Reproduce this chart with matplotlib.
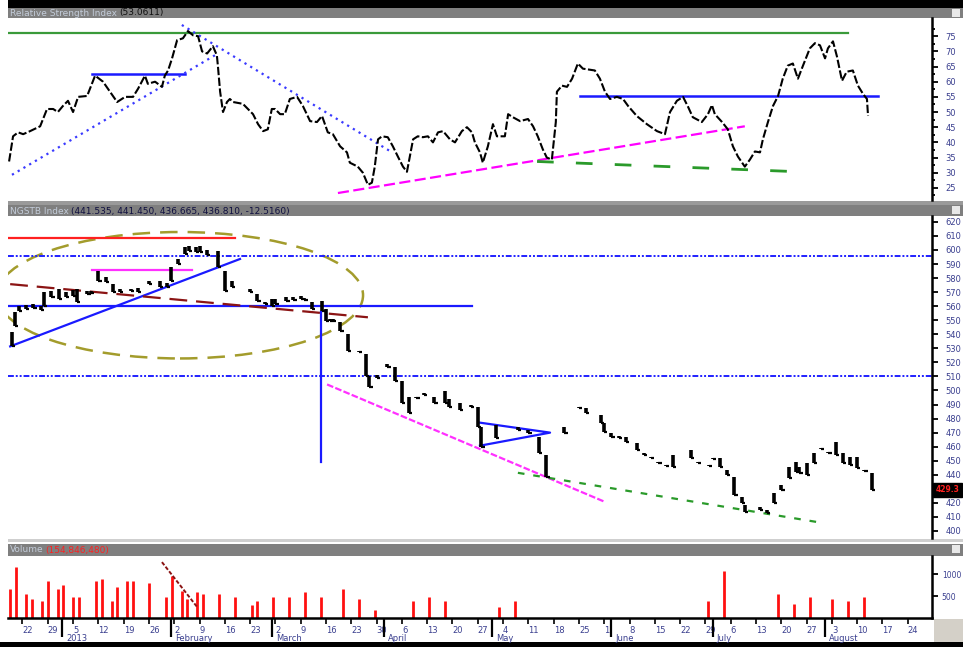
import numpy as np
import pandas as pd
import matplotlib.pyplot as plt
from matplotlib.patches import Ellipse, Rectangle
from matplotlib.transforms import blended_transform_factory

# ---- data (x = calendar days after 2012-12-18) ----
day0 = pd.Timestamp('2012-12-18')

rsi_day = [0.3, 1.4, 2.8, 4.2, 6.1, 8.9, 10.8, 12.5, 13.8, 15.2, 16.6, 18.0, 19.4, 21.9, 24.1, 26.3,
           30.2, 32.4, 34.6, 36.0, 37.9, 38.7, 40.7, 42.6, 43.4, 44.3, 45.4, 46.8, 48.4, 49.8, 51.2,
           52.6, 53.7, 55.1, 56.7, 57.8, 58.1, 58.7, 59.5, 60.6, 61.4, 62.3, 65.0, 67.8, 69.2, 70.6,
           71.9, 73.0, 73.9, 75.3, 76.6, 78.0, 80.0, 81.6, 83.6, 85.5, 86.9, 88.5, 89.9, 91.9, 93.8,
           94.6, 96.8, 98.2, 99.6, 100.7, 101.5, 102.4, 103.5, 105.1, 106.5, 107.9, 109.3, 110.4,
           111.2, 112.1, 113.4, 114.8, 116.2, 117.6, 119.0, 120.4, 122.3, 123.7, 125.6, 127.0, 128.4,
           129.2, 130.6, 131.4, 132.8, 134.2, 135.3, 137.5, 138.4, 139.7, 141.7, 143.9, 145.3, 146.6,
           148.0, 149.1, 150.5, 151.1, 151.6, 151.9, 153.3, 154.7, 156.1, 157.7, 159.1, 162.4, 163.8,
           165.2, 166.6, 168.5, 170.2, 171.6, 174.0, 176.8, 179.6, 181.8, 182.3, 183.2, 185.1, 186.8,
           188.2, 189.5, 192.0, 193.7, 194.8, 195.6, 197.6, 199.2, 200.6, 202.0, 203.9, 205.3, 206.7,
           208.1, 208.9, 210.3, 211.7, 213.1, 214.4, 215.8, 217.2, 218.6, 220.0, 221.9, 223.3, 224.7,
           226.1, 226.9, 228.3, 229.4, 230.8, 232.1, 233.8, 235.2, 236.6, 237.7, 238.0]
rsi_val = [33.7, 42.0, 43.3, 42.7, 43.7, 45.3, 51.0, 51.0, 50.0, 52.0, 53.7, 50.0, 55.0, 55.3, 62.0, 60.0,
           53.3, 55.0, 55.0, 57.7, 62.0, 59.3, 60.0, 58.3, 62.0, 63.7, 67.7, 73.7, 74.3, 76.7, 75.3,
           75.0, 70.0, 69.3, 71.7, 68.7, 65.0, 56.7, 50.0, 53.3, 54.3, 53.3, 52.7, 49.3, 46.0, 43.7,
           44.3, 51.0, 51.0, 49.3, 49.3, 54.3, 55.0, 52.0, 47.0, 46.7, 48.7, 43.3, 42.7, 38.7, 36.7,
           33.3, 32.0, 30.0, 26.0, 26.7, 32.0, 41.0, 42.0, 41.7, 38.7, 35.3, 32.0, 30.3,
           35.3, 41.0, 42.0, 41.7, 42.0, 40.0, 43.3, 43.7, 41.0, 40.0, 43.7, 45.0, 43.3,
           40.0, 36.7, 33.3, 38.7, 46.0, 42.0, 42.0, 49.3, 48.3, 47.0, 47.7, 45.3, 42.0,
           37.7, 35.0, 34.3, 41.0, 46.7, 56.7, 58.7, 58.3, 61.0, 66.0, 64.3, 63.7, 61.0,
           56.7, 54.3, 55.0, 54.3, 52.0, 48.7, 46.0, 43.7, 42.7, 45.3, 50.0, 53.7, 55.0,
           51.7, 48.3, 46.7, 49.3, 52.3, 49.3, 46.7, 44.3, 38.7, 35.3, 32.0, 34.3, 37.0,
           36.7, 41.0, 46.7, 52.0, 55.3, 61.0, 65.3, 66.0, 61.0, 65.3, 71.0, 72.7, 72.0,
           67.7, 71.0, 73.3, 68.3, 60.3, 63.3, 63.7, 58.7, 56.0, 54.3, 48.7]

price_day = [1, 2, 3, 5, 7, 9, 10, 12, 14, 16, 18, 19, 22, 23, 25, 27, 29, 31, 34, 36, 39, 42, 44, 45,
             47, 49, 50, 52, 53, 55, 58, 60, 62, 67, 69, 71, 73, 74, 77, 79, 81, 82, 84, 87, 88, 89,
             90, 92, 94, 97, 99, 100, 102, 105, 107, 109, 111, 113, 115, 118, 121, 122, 125, 128,
             130, 131, 135, 141, 144, 147, 149, 154, 158, 160, 164, 165, 167, 169, 171, 174, 176,
             178, 180, 182, 184, 189, 191, 194, 195, 197, 199, 201, 203, 204, 208, 210, 212, 214,
             216, 218, 219, 221, 223, 225, 227, 229, 231, 233, 235, 237, 239]
price_high = [541.4, 555.7, 560.0, 560.7, 561.4, 560.0, 570.0, 570.7, 572.1, 570.0, 571.4, 572.1, 570.7,
              570.7, 585.0, 580.7, 575.7, 572.1, 572.1, 572.8, 577.9, 577.9, 576.4, 587.9, 593.6,
              602.1, 602.9, 602.1, 602.9, 600.0, 599.3, 585.0, 577.9, 572.1, 568.6, 562.8, 565.0,
              565.0, 566.4, 566.4, 567.1, 565.7, 562.8, 563.5, 557.8, 550.7, 550.7, 548.5, 540.0,
              527.8, 525.7, 510.0, 510.7, 518.5, 516.4, 506.4, 495.7, 495.7, 498.5, 495.7, 499.3,
              493.6, 491.4, 490.0, 488.6, 474.3, 475.7, 474.3, 472.1, 467.1, 454.3, 474.3, 488.6,
              487.8, 482.8, 477.1, 470.0, 467.8, 467.1, 462.8, 455.7, 452.8, 449.3, 447.1, 454.3,
              457.8, 449.3, 447.1, 452.1, 452.1, 443.6, 438.6, 424.3, 418.6, 417.1, 415.0, 427.1,
              432.9, 445.7, 449.3, 445.7, 448.6, 455.7, 459.3, 456.4, 463.6, 455.7, 452.8, 452.8,
              443.6, 441.4]
price_low = [531.4, 545.7, 556.4, 557.8, 558.5, 557.1, 560.0, 566.4, 565.0, 566.4, 567.1, 562.8, 568.6,
             569.3, 577.9, 577.1, 570.0, 570.0, 570.7, 570.0, 575.7, 573.6, 573.6, 577.9, 590.0,
             597.1, 599.3, 598.6, 598.6, 596.4, 587.9, 570.7, 573.6, 570.0, 563.5, 561.4, 560.0,
             561.4, 563.5, 564.3, 565.0, 564.3, 557.8, 556.4, 549.2, 549.2, 549.2, 542.1, 527.8,
             527.1, 510.0, 502.8, 508.6, 516.4, 506.4, 491.4, 484.3, 494.3, 497.1, 491.4, 491.4,
             488.6, 486.4, 488.6, 474.3, 460.0, 466.4, 472.1, 470.0, 455.7, 438.6, 470.0, 487.8,
             484.3, 477.1, 470.7, 467.1, 466.4, 463.6, 457.8, 454.3, 452.1, 448.6, 446.4, 445.7,
             452.1, 448.6, 446.4, 451.4, 445.7, 440.0, 425.7, 420.0, 413.6, 415.0, 412.9, 420.0,
             429.3, 437.9, 442.1, 441.4, 440.0, 448.6, 458.6, 455.7, 454.3, 448.6, 447.1, 445.0,
             442.8, 429.3]

vol_day = [0.6, 2.2, 5.0, 6.6, 9.4, 11.1, 13.8, 15.2, 18.0, 19.6, 24.4, 26.0, 28.8, 30.2, 32.9, 34.6,
           39.0, 43.7, 45.4, 48.1, 49.5, 52.3, 54.0, 58.4, 62.8, 67.5, 68.9, 73.3, 77.8, 82.2, 86.6,
           92.7, 97.1, 101.5, 112.1, 116.5, 120.9, 135.9, 140.3, 193.7, 198.1, 213.1, 217.5, 221.9,
           228.0, 232.4, 236.9]
vol_val = [659, 1163, 558, 426, 388, 837, 659, 752, 481, 481, 837, 891, 388, 713, 837, 837,
           791, 481, 969, 620, 426, 605, 558, 558, 481, 287, 388, 481, 481, 605, 481,
           659, 426, 194, 388, 481, 388, 248, 388, 388, 1085, 558, 326, 481,
           426, 388, 481]

month_names = ['2013', 'February', 'March', 'April', 'May', 'June', 'July', 'August']
month_starts = ['2013-01-02', '2013-02-01', '2013-03-01', '2013-04-01', '2013-05-01',
                '2013-06-03', '2013-07-01', '2013-08-01']

# ---- figure ----
W, H = 963, 647
fig = plt.figure(figsize=(W / 100, H / 100), dpi=100)
fig.patch.set_facecolor('white')


def px_axes(x0, y0, x1, y1):
    return fig.add_axes([x0 / W, 1 - y1 / H, (x1 - x0) / W, (y1 - y0) / H])


def px_rect(x0, y0, x1, y1, color):
    fig.patches.append(Rectangle((x0 / W, 1 - y1 / H), (x1 - x0) / W, (y1 - y0) / H,
                                 transform=fig.transFigure, facecolor=color,
                                 edgecolor='none', zorder=-5))


# window chrome
px_rect(8, 0, W, 8, 'black')
px_rect(8, 8, W, 18, '#7f7f7f')
px_rect(8, 201, W, 205, '#9a9a9a')
px_rect(8, 205, W, 216, '#7f7f7f')
px_rect(8, 539, W, 542, '#cfcfcf')
px_rect(8, 544, W, 556, '#7f7f7f')
px_rect(934, 619, W, 642, '#d4d0c8')
px_rect(0, 642, W, H, 'black')
for yy in (9, 206, 545):
    px_rect(952, yy, 960, yy + 8, '#e8e8e8')

x_end = 255.7
rsi_ax = px_axes(8, 18, 932, 200)
px_ax = px_axes(8, 216, 932, 538)
vol_ax = px_axes(8, 556, 932, 618)

lab_col = '#3a3f8f'
for ax in (rsi_ax, px_ax, vol_ax):
    ax.set_xlim(0, x_end)
    for s in ('top', 'left', 'bottom'):
        ax.spines[s].set_visible(False)
    ax.spines['right'].set_linewidth(1.8)
    ax.yaxis.tick_right()
    ax.tick_params(axis='y', which='both', direction='out', width=1.3, pad=5,
                   labelsize=6, labelcolor=lab_col)
    ax.tick_params(axis='y', which='major', length=4.5)
    ax.tick_params(axis='y', which='minor', length=2.5)
    ax.set_xticks([])

# ---- RSI panel ----
rsi_ax.set_ylim(21, 81)
rsi_ax.set_yticks(np.arange(25, 80, 5))
rsi_ax.set_yticks(np.arange(22.5, 80, 5), minor=True)
rsi_ax.yaxis.set_major_formatter('{x:.0f}')
rsi_ax.plot([0, 232.4], [76.0, 76.0], color='#3a9a3a', lw=1.6)
rsi_ax.plot([23.2, 49.0], [62.7, 62.7], color='#1a1aff', lw=1.8)
rsi_ax.plot([158.3, 240.7], [55.3, 55.3], color='#1a1aff', lw=1.8)
rsi_ax.plot([1.1, 58.1], [29.3, 69.3], color='#3a3aff', lw=1.6, ls=(0, (1, 2)))
rsi_ax.plot([48.1, 106.3], [78.7, 36.7], color='#3a3aff', lw=1.6, ls=(0, (1, 2)))
rsi_ax.plot([91.3, 203.9], [23.3, 45.3], color='#ff00ff', lw=1.6, ls=(0, (5, 2)))
rsi_ax.plot([146.4, 219.1], [33.7, 30.3], color='#2a9a2a', lw=2.0, ls=(0, (6, 8)))
rsi_ax.plot(rsi_day, rsi_val, color='black', lw=1.5, ls=(0, (4, 1.2)))

# ---- price panel ----
last = price_low[-1]
px_ax.set_ylim(395.0, 624.2)
p_ticks = np.arange(400, 621, 10)
px_ax.set_yticks(p_ticks)
# the last-price box hides the label it sits on
px_ax.set_yticklabels(['' if abs(t - last) < 6 else f'{t:.0f}' for t in p_ticks])
px_ax.tick_params(axis='y', which='major', length=4.5)
for lvl in (595.7, 510.0):
    px_ax.axhline(lvl, color='#2020ff', lw=1.4, ls=(0, (3, 1, 1, 1, 1, 1)))
px_ax.plot([0, 62.8], [608.5, 608.5], color='#ff2020', lw=1.6)
px_ax.add_patch(Ellipse((47.6, 567.8), 101.3, 90.0, fill=False, edgecolor='#a39c2c',
                        lw=1.8, ls=(0, (7, 4))))
px_ax.plot([23.2, 50.9], [585.7, 585.7], color='#ff30ff', lw=1.6)
px_ax.plot([0, 128.4], [560.0, 560.0], color='#1a1aff', lw=1.6)
px_ax.plot([0.6, 64.2], [531.4, 593.6], color='#1a1aff', lw=1.6)
px_ax.plot([0.6, 99.6], [575.7, 552.1], color='#8b1414', lw=1.6, ls=(0, (8, 4)))
px_ax.plot([86.6, 86.6], [555.7, 449.3], color='#1a1aff', lw=1.6)
px_ax.plot([88.3, 165.2], [504.3, 420.7], color='#ff30ff', lw=1.6, ls=(0, (3, 1)))
px_ax.plot([141.1, 225.5], [441.4, 405.7], color='#2a9a2a', lw=1.6, ls=(0, (3, 4)))
px_ax.plot([130.6, 150.0, 130.6], [477.1, 470.0, 460.7], color='#1a1aff', lw=1.6)
px_ax.vlines(price_day, price_low, price_high, color='black', lw=2.6)
px_ax.hlines(price_low, np.array(price_day), np.array(price_day) + 0.9, color='black', lw=1.6)

px_ax.text(1.004, last, f'{last:.1f}', transform=blended_transform_factory(px_ax.transAxes, px_ax.transData),
           ha='left', va='center', fontsize=5.5, color='#ff2020', fontweight='bold',
           bbox=dict(boxstyle='square,pad=0.3', facecolor='black', edgecolor='black'), clip_on=False)

# ---- volume panel ----
vol_ax.set_ylim(0, 1419)
vol_ax.set_yticks([500, 1000])
vol_ax.tick_params(axis='y', labelsize=5.5, pad=2.5)
vol_ax.spines['bottom'].set_visible(True)
vol_ax.spines['bottom'].set_linewidth(1.8)
vol_ax.vlines(vol_day, 0, vol_val, color='#ff1010', lw=2.0)
vol_ax.plot([42.6, 52.3], [1279, 256], color='#8b1414', lw=1.4, ls=(0, (2, 1)))

sat = pd.date_range('2012-12-22', '2013-08-24', freq='W-SAT')
vol_ax.set_xticks((sat - day0).days)
vol_ax.set_xticklabels([str(d.day) for d in sat])
vol_ax.tick_params(axis='x', which='major', direction='out', length=4, width=1.2, pad=2,
                   labelsize=6, labelcolor=lab_col)
for lbl in vol_ax.get_xticklabels():
    lbl.set_ha('left')
m_days = (pd.to_datetime(month_starts) - day0).days
vol_ax.set_xticks(m_days, minor=True)
vol_ax.tick_params(axis='x', which='minor', direction='out', length=14, width=1.6)
for name, d in zip(month_names, m_days):
    vol_ax.annotate(name, xy=(d, 0), xycoords=('data', 'axes fraction'), xytext=(3, -15),
                    textcoords='offset points', fontsize=6, color=lab_col, va='center')

# ---- header texts ----
renderer = fig.canvas.get_renderer()


def header(y, parts):
    x = 10 / W
    for txt, col in parts:
        t = fig.text(x, 1 - y / H, txt, fontsize=6.5, color=col, va='center', ha='left')
        bb = t.get_window_extent(renderer)
        x = (bb.x1 + 2) / W


header(13, [('Relative Strength Index', '#c3ccd9'), ('(53.0611)', '#101010')])
header(211, [('NGSTB Index', '#c3ccd9'), ('(441.535, 441.450, 436.665, 436.810, -12.5160)', '#101040')])
header(550, [('Volume', '#c3ccd9'), ('(154,846,480)', '#ff2020')])

fig.savefig('out.png', dpi=100)
